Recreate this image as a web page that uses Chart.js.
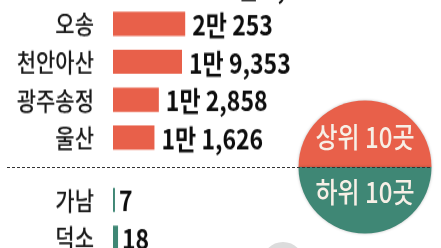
<!DOCTYPE html>
<html lang="ko">
<head>
<meta charset="utf-8">
<script src="https://cdn.jsdelivr.net/npm/chart.js@4"></script>
<style>
  html, body { margin: 0; padding: 0; background: #fff; }
  body { width: 441px; height: 248px; overflow: hidden; position: relative; }
  .wrap { position: absolute; left: 0; width: 441px; }
  .wrap canvas { transform: scaleY(1.2); transform-origin: 0 0; }
  #topWrap { top: -33px; }
  #botWrap { top: 181px; }
  #deco { position: absolute; left: 0; top: 0; pointer-events: none; }
</style>
</head>
<body>
<div class="wrap" id="topWrap"><canvas id="topChart" width="441" height="158"></canvas></div>
<div class="wrap" id="botWrap"><canvas id="botChart" width="441" height="63"></canvas></div>
<canvas id="deco" width="441" height="248"></canvas>
<script>
// ---- data ----
const topCategories = ['대전', '오송', '천안아산', '광주송정', '울산'];
const topValues = [29180, 20253, 19353, 12858, 11626];
const bottomCategories = ['가남', '덕소'];
const bottomValues = [7, 18];
const badgeLabels = ['상위 10곳', '하위 10곳'];

const FONT = '"Noto Sans CJK KR", "Noto Sans", sans-serif';
const ORANGE = '#e8604a';
const TEAL = '#3f8775';

function fmtMan(v) {
  const man = Math.floor(v / 10000);
  const rest = v % 10000;
  if (man > 0) return man + '만 ' + rest.toLocaleString('en-US');
  return rest.toLocaleString('en-US');
}

function valueLabelPlugin(gap) {
  return {
    id: 'valueLabels',
    afterDatasetsDraw(chart) {
      const ctx = chart.ctx;
      const meta = chart.getDatasetMeta(0);
      const data = chart.data.datasets[0].data;
      ctx.save();
      ctx.font = 'bold 23px ' + FONT;
      ctx.fillStyle = '#0d0d0d';
      ctx.textAlign = 'left';
      ctx.textBaseline = 'middle';
      meta.data.forEach((bar, i) => {
        ctx.fillText(fmtMan(data[i]), bar.x + gap, bar.y + 1);
      });
      ctx.restore();
    }
  };
}

function makeChart(id, labels, values, color, xMax, gap) {
  return new Chart(document.getElementById(id), {
    type: 'bar',
    data: {
      labels: labels,
      datasets: [{ data: values, backgroundColor: color, borderWidth: 0,
                   barPercentage: 0.64, categoryPercentage: 1 }]
    },
    options: {
      indexAxis: 'y',
      responsive: false,
      animation: false,
      layout: { padding: 0 },
      plugins: { legend: { display: false }, tooltip: { enabled: false } },
      scales: {
        x: { display: false, min: 0, max: xMax },
        y: {
          grid: { display: false },
          border: { display: false },
          ticks: { padding: 11, color: '#1a1a1a', font: { family: FONT, size: 21, weight: '500' } },
          afterFit(scale) {
            scale.width = 113;
            scale.paddingTop = 0;
            scale.paddingBottom = 0;
          }
        }
      }
    },
    plugins: [valueLabelPlugin(gap)]
  });
}

makeChart('topChart', topCategories, topValues, ORANGE, 92000, 7);
makeChart('botChart', bottomCategories, bottomValues, TEAL, 1170, 4);

// ---- decorations: divider, badge circle ----
(function () {
  const c = document.getElementById('deco');
  const ctx = c.getContext('2d');
  // faint grey circle at bottom
  ctx.fillStyle = '#dcdcdc';
  ctx.beginPath(); ctx.arc(283, 263, 21, 0, Math.PI * 2); ctx.fill();

  const cx = 365, cy = 167, r = 66.5;
  ctx.save();
  ctx.shadowColor = 'rgba(0,0,0,0.25)';
  ctx.shadowBlur = 3;
  ctx.fillStyle = ORANGE;
  ctx.beginPath(); ctx.arc(cx, cy, r, Math.PI, 0); ctx.closePath(); ctx.fill();
  ctx.fillStyle = TEAL;
  ctx.beginPath(); ctx.arc(cx, cy, r, 0, Math.PI); ctx.closePath(); ctx.fill();
  ctx.restore();

  // dashed divider
  ctx.strokeStyle = '#333';
  ctx.lineWidth = 1;
  ctx.setLineDash([3, 2]);
  ctx.beginPath(); ctx.moveTo(7, 167.5); ctx.lineTo(432, 167.5); ctx.stroke();
  ctx.setLineDash([]);

  ctx.fillStyle = '#f7efe6';
  ctx.font = '500 24px ' + FONT;
  ctx.textAlign = 'center';
  ctx.textBaseline = 'middle';
  [[badgeLabels[0], 137], [badgeLabels[1], 192]].forEach(([t, y]) => {
    ctx.save();
    ctx.translate(cx, y);
    ctx.scale(1, 1.2);
    ctx.fillText(t, 0, 0);
    ctx.restore();
  });
})();
</script>
</body>
</html>
